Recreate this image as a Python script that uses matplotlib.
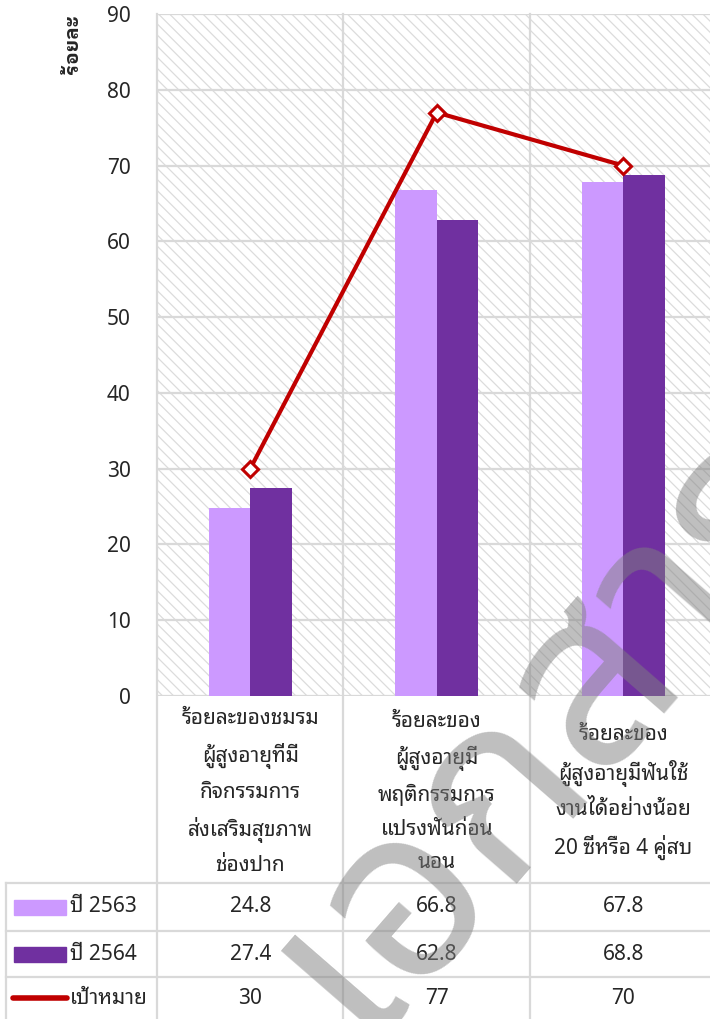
import matplotlib
matplotlib.use("Agg")
import matplotlib.pyplot as plt
from matplotlib import transforms
from matplotlib.patches import Rectangle
from matplotlib.lines import Line2D

plt.rcParams['font.family'] = ['Noto Sans Thai Looped', 'DejaVu Sans']
plt.rcParams['hatch.linewidth'] = 0.9
plt.rcParams['hatch.color'] = '#DCDCDC'

categories = [
    "ร้อยละของชมรม\nผู้สูงอายุที่มี\nกิจกรรมการ\nส่งเสริมสุขภาพ\nช่องปาก",
    "ร้อยละของ\nผู้สูงอายุมี\nพฤติกรรมการ\nแปรงฟันก่อน\nนอน",
    "ร้อยละของ\nผู้สูงอายุมีฟันใช้\nงานได้อย่างน้อย\n20 ซี่หรือ 4 คู่สบ",
]
y2563 = [24.8, 66.8, 67.8]
y2564 = [27.4, 62.8, 68.8]
target = [30, 77, 70]
series_names = ["ปี 2563", "ปี 2564", "เป้าหมาย"]
yticks = [0, 10, 20, 30, 40, 50, 60, 70, 80, 90]

c1 = '#CC99FF'
c2 = '#7030A0'
cr = '#C00000'
grid = '#D9D9D9'
fs = 15

fig = plt.figure(figsize=(7.1, 10.19), dpi=100)
W, H = 710, 1019
left, top, bottom = 157, 14, 696
colw = 186.5
ax = fig.add_axes([left / W, 1 - bottom / H, 3 * colw / W, (bottom - top) / H])
ax.set_xlim(-0.5, 2.5)
ax.set_ylim(0, 90)

# hatched background
ax.add_patch(Rectangle((0, 0), 1, 1, transform=ax.transAxes, facecolor='white',
                       edgecolor='#DCDCDC', hatch='\\\\\\', lw=0, zorder=0))
for t in yticks:
    ax.axhline(t, color=grid, lw=1.6, zorder=1)

x = list(range(len(categories)))
bw = 0.222
ax.bar([i - bw / 2 for i in x], y2563, bw, color=c1, zorder=3)
ax.bar([i + bw / 2 for i in x], y2564, bw, color=c2, zorder=3)
ax.plot(x, target, color=cr, lw=3, marker='D', markersize=8.5,
        markerfacecolor='white', markeredgecolor=cr, markeredgewidth=2.2, zorder=4)

ax.set_yticks(yticks)
ax.set_yticklabels([str(t) for t in yticks], fontsize=fs, color='#262626')
ax.tick_params(axis='y', length=0, pad=19)
ax.set_xticks([])
for s in ax.spines.values():
    s.set_visible(False)

fig.text(73 / W, 1 - 44 / H, "ร้อยละ", rotation=90, ha='center', va='center',
         fontsize=14, fontweight='bold', color='#262626',
         family=['IBM Plex Sans Thai Looped', 'DejaVu Sans'])

# data table below the plot
tr = transforms.blended_transform_factory(ax.transData, ax.transAxes)
def ya(py):
    return (bottom - py) / (bottom - top)
def xd(px):
    return -0.5 + (px - left) / colw

row_lines = [883, 931, 977]
for py in row_lines:
    ax.add_line(Line2D([xd(6), 2.5], [ya(py), ya(py)], transform=tr, color=grid,
                       lw=1.6, clip_on=False))
for bx in [-0.5, 0.5, 1.5]:
    ax.add_line(Line2D([bx, bx], [1, ya(H + 5)], transform=tr, color=grid,
                       lw=1.6, clip_on=False, zorder=2))
ax.add_line(Line2D([xd(6), xd(6)], [ya(883), ya(H + 5)], transform=tr, color=grid,
                   lw=1.6, clip_on=False))

for i, lab in enumerate(categories):
    ax.text(i, ya(792), lab, transform=tr, ha='center', va='center', fontsize=fs,
            linespacing=1.76, color='#262626')

row_centers = [907, 954, 998]
rows = [y2563, y2564, target]
for r, (vals, name) in enumerate(zip(rows, series_names)):
    cy = ya(row_centers[r])
    for i, v in enumerate(vals):
        ax.text(i, cy, f"{v:g}", transform=tr, ha='center', va='center',
                fontsize=fs, color='#262626')
    ax.text(xd(70), cy, name, transform=tr, ha='left', va='center', fontsize=fs,
            color='#262626')

key_h = 15 / (bottom - top)
ax.add_patch(Rectangle((xd(14), ya(row_centers[0]) - key_h / 2), xd(66) - xd(14), key_h,
                       transform=tr, color=c1, clip_on=False))
ax.add_patch(Rectangle((xd(14), ya(row_centers[1]) - key_h / 2), xd(66) - xd(14), key_h,
                       transform=tr, color=c2, clip_on=False))
ax.add_line(Line2D([xd(13), xd(67)], [ya(row_centers[2]), ya(row_centers[2])],
                   transform=tr, color=cr, lw=4, clip_on=False, solid_capstyle='round'))

# watermark
fig.text(545 / W, 1 - 728 / H, "เอกสาร", rotation=49, rotation_mode='anchor',
         ha='center', va='center', fontsize=175, fontweight='bold', color='#808080',
         alpha=0.5, family=['Noto Sans Thai', 'DejaVu Sans'])

fig.savefig("out.png", dpi=100)
